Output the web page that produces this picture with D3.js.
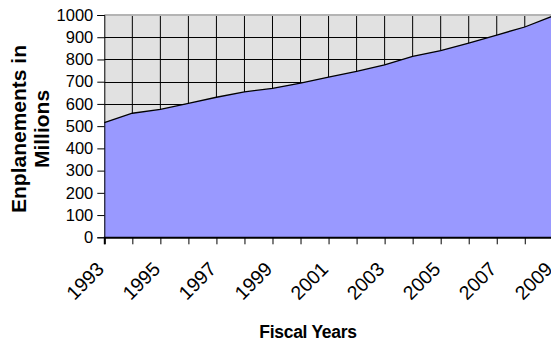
<!DOCTYPE html>
<html>
<head>
<meta charset="utf-8">
<script src="https://cdn.jsdelivr.net/npm/d3@7"></script>
<style>
  body { margin: 0; background: #fff; }
  text { font-family: "Liberation Sans", Arial, sans-serif; fill: #000; }
</style>
</head>
<body>
<div id="chart"></div>
<script>
// fiscal years on the x axis
const years = [1993, 1994, 1995, 1996, 1997, 1998, 1999, 2000, 2001,
               2002, 2003, 2004, 2005, 2006, 2007, 2008, 2009];
// enplanements (millions)
const enplanements = [516, 558, 575, 602, 630, 654, 670, 694, 721,
                      746, 776, 814, 840, 874, 910, 946, 995];
const yTicks = [0, 100, 200, 300, 400, 500, 600, 700, 800, 900, 1000];
const xLabelYears = [1993, 1995, 1997, 1999, 2001, 2003, 2005, 2007, 2009];
const yTitle = ["Enplanements in", "Millions"];
const xTitle = "Fiscal Years";

const margin = {top: 15, left: 104.3},
      width = 448.5,
      height = 222.3;

const svg = d3.select("#chart")
  .append("svg")
    .attr("width", 551)
    .attr("height", 346);

const g = svg.append("g")
  .attr("transform", "translate(" + margin.left + "," + margin.top + ")");

const x = d3.scalePoint()
  .domain(years)
  .range([0, width]);
const y = d3.scaleLinear()
  .domain([0, 1000])
  .range([height, 0]);

// plot area background
g.append("rect")
  .attr("x", 0)
  .attr("y", 0)
  .attr("width", width)
  .attr("height", height)
  .attr("fill", "#e1e1e1");

// horizontal gridlines
g.append("g")
  .selectAll("line")
  .data(yTicks.filter(d => d > 0 && d < 1000))
  .join("line")
    .attr("x1", 0)
    .attr("x2", width)
    .attr("y1", d => Math.round(y(d)) + 0.5)
    .attr("y2", d => Math.round(y(d)) + 0.5)
    .attr("stroke", "#000")
    .attr("stroke-width", 1);

// vertical gridlines, one per year
g.append("g")
  .selectAll("line")
  .data(years.slice(1))
  .join("line")
    .attr("x1", d => x(d))
    .attr("x2", d => x(d))
    .attr("y1", 0)
    .attr("y2", height)
    .attr("stroke", "#000")
    .attr("stroke-width", 1);

// top border
g.append("line")
  .attr("x1", 0)
  .attr("x2", width)
  .attr("y1", 0)
  .attr("y2", 0)
  .attr("stroke", "#b4b4b4")
  .attr("stroke-width", 2);

// area
const area = d3.area()
  .x((d, i) => x(years[i]))
  .y0(y(0))
  .y1(d => y(d));
g.append("path")
  .datum(enplanements)
  .attr("d", area)
  .attr("fill", "#9999ff");

const line = d3.line()
  .x((d, i) => x(years[i]))
  .y(d => y(d));
g.append("path")
  .datum(enplanements)
  .attr("d", line)
  .attr("fill", "none")
  .attr("stroke", "#000")
  .attr("stroke-width", 1.3);

// y axis
const yAxis = g.append("g")
  .call(d3.axisLeft(y).tickValues(yTicks).tickSize(7).tickPadding(4).tickFormat(d3.format("d")));
yAxis.select(".domain").attr("stroke", "#000");
yAxis.selectAll("text")
  .style("font-size", "16.5px")
  .style("font-family", "'Liberation Sans', Arial, sans-serif")
  .attr("fill", "#000");

// x axis
const xAxis = g.append("g")
  .attr("transform", "translate(0," + height + ")")
  .call(d3.axisBottom(x).tickSize(7).tickFormat(""));
xAxis.select(".domain").attr("stroke", "#000").attr("stroke-width", 2);

g.append("g")
  .selectAll("text")
  .data(xLabelYears)
  .join("text")
    .attr("transform", d => "translate(" + (x(d) + 1) + "," + (height + 33) + ") rotate(-45)")
    .attr("text-anchor", "end")
    .style("font-size", "19.5px")
    .text(d => d);

// axis titles
svg.append("text")
  .attr("transform", "translate(26,129) rotate(-90)")
  .attr("text-anchor", "middle")
  .style("font-size", "21px")
  .style("font-weight", "bold")
  .selectAll("tspan")
  .data(yTitle)
  .join("tspan")
    .attr("x", 0)
    .attr("dy", (d, i) => i === 0 ? 0 : 23)
    .text(d => d);

svg.append("text")
  .attr("x", 308)
  .attr("y", 338)
  .attr("text-anchor", "middle")
  .style("font-size", "17.5px")
  .style("font-weight", "bold")
  .style("letter-spacing", "-0.3px")
  .text(xTitle);
</script>
</body>
</html>
